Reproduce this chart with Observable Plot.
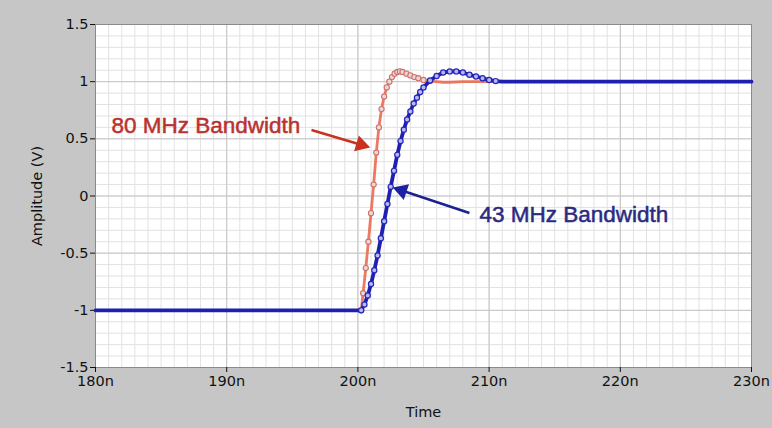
<!DOCTYPE html>
<html><head><meta charset="utf-8">
<script src="https://cdn.jsdelivr.net/npm/d3@7"></script>
<script src="https://cdn.jsdelivr.net/npm/@observablehq/plot@0.6"></script>
<style>body{margin:0;background:#c6c6c6;overflow:hidden}</style>
</head><body><div id="chart"></div>
<script>
const xTicks = [180, 190, 200, 210, 220, 230];
const xTickLabels = ["180n", "190n", "200n", "210n", "220n", "230n"];
const yTicks = [-1.5, -1, -0.5, 0, 0.5, 1, 1.5];
const yTickLabels = ["-1.5", "-1", "-0.5", "0", "0.5", "1", "1.5"];

// 80 MHz bandwidth step response (time in ns, amplitude in V)
const redTime = [180, 190, 200, 200.25, 200.4, 200.6, 200.8, 201.0, 201.2, 201.4, 201.6, 201.8, 202.0, 202.2, 202.4, 202.6, 202.8, 203.0, 203.2, 203.4, 203.7, 204.0, 204.3, 204.6, 205.0, 205.5, 206.0, 206.5, 207.0, 208, 210, 220, 230];
const redAmp  = [-1, -1, -1, -1, -0.85, -0.63, -0.4, -0.15, 0.1, 0.38, 0.6, 0.76, 0.87, 0.95, 1.0, 1.04, 1.07, 1.085, 1.09, 1.085, 1.07, 1.055, 1.04, 1.03, 1.015, 1.005, 1.0, 0.995, 0.995, 1.0, 1.0, 1.0, 1.0];

// 43 MHz bandwidth step response
const blueTime = [180, 190, 200, 200.25, 200.5, 200.75, 201.0, 201.25, 201.5, 201.75, 202.0, 202.25, 202.5, 202.75, 203.0, 203.25, 203.5, 203.75, 204.0, 204.25, 204.5, 204.75, 205.0, 205.5, 206.0, 206.5, 207.0, 207.5, 208.0, 208.5, 209.0, 209.5, 210.0, 210.5, 211.0, 212, 220, 230];
const blueAmp  = [-1, -1, -1, -1, -0.95, -0.87, -0.77, -0.65, -0.52, -0.37, -0.22, -0.07, 0.08, 0.22, 0.36, 0.48, 0.58, 0.67, 0.74, 0.81, 0.86, 0.91, 0.95, 1.01, 1.05, 1.08, 1.09, 1.09, 1.08, 1.06, 1.045, 1.03, 1.015, 1.005, 1.0, 1.0, 1.0, 1.0];

const red = redTime.map((t, i) => ({t, v: redAmp[i]}));
const blue = blueTime.map((t, i) => ({t, v: blueAmp[i]}));
const redRise = red.filter(d => d.t > 200 && d.t < 206);
const blueRise = blue.filter(d => d.t > 200 && d.t < 211);

const font = "'DejaVu Sans', sans-serif";
const annFont = "'Liberation Sans', Arial, sans-serif";

const chart = Plot.plot({
  width: 772, height: 428,
  marginLeft: 95, marginRight: 21, marginTop: 24, marginBottom: 61,
  style: {background: "#c6c6c6", fontFamily: font, fontSize: "14px", color: "#111"},
  x: {domain: [180, 230]},
  y: {domain: [-1.5, 1.5]},
  marks: [
    Plot.frame({fill: "white"}),
    Plot.ruleX(d3.range(180, 230.5, 1), {stroke: "#e2e2e2", strokeWidth: 1}),
    Plot.ruleY(d3.range(-15, 16, 1).map(d => d / 10), {stroke: "#e2e2e2", strokeWidth: 1}),
    Plot.ruleX(xTicks, {stroke: "#c4c4c4", strokeWidth: 1}),
    Plot.ruleY(yTicks, {stroke: "#c4c4c4", strokeWidth: 1}),
    Plot.frame({stroke: "#8a8a8a"}),
    Plot.axisX({ticks: xTicks, tickFormat: d => xTickLabels[xTicks.indexOf(d)], tickSize: 5, tickPadding: 3,
      fontSize: 14.5, label: "Time", labelAnchor: "center", labelArrow: "none", labelOffset: 49}),
    Plot.axisY({ticks: yTicks, tickFormat: d => yTickLabels[yTicks.indexOf(d)], tickSize: 5, tickPadding: 2,
      fontSize: 14.5, label: "Amplitude (V)", labelAnchor: "center", labelArrow: "none", labelOffset: 64}),
    // 80 MHz
    Plot.line(red, {x: "t", y: "v", stroke: "#ea6a50", strokeWidth: 2.8, strokeOpacity: 0.9}),
    Plot.dot(redRise, {x: "t", y: "v", r: 2.6, stroke: "#d0706a", strokeWidth: 1.1, fill: "#e8d8d8"}),
    // 43 MHz
    Plot.line(blue, {x: "t", y: "v", stroke: "#1f1fb0", strokeWidth: 3.8}),
    Plot.dot(blueRise, {x: "t", y: "v", r: 2.6, stroke: "#2525b8", strokeWidth: 1.2, fill: "#b8b8f0"}),
    // annotations
    Plot.link([{x1: 196.46, y1: 0.577, x2: 200.24, y2: 0.448}], {x1: "x1", y1: "y1", x2: "x2", y2: "y2", stroke: "#c8321f", strokeWidth: 2.5}),
    Plot.dot([{x: 200.24, y: 0.448}], {x: "x", y: "y", symbol: "triangle", r: 5.2, fill: "#c8321f", stroke: "#c8321f", rotate: 106.6}),
    Plot.link([{x1: 208.5, y1: -0.149, x2: 203.35, y2: 0.048}], {x1: "x1", y1: "y1", x2: "x2", y2: "y2", stroke: "#1e2290", strokeWidth: 2.5}),
    Plot.dot([{x: 203.35, y: 0.048}], {x: "x", y: "y", symbol: "triangle", r: 5.2, fill: "#1e22a0", stroke: "#1e22a0", rotate: -71.6}),
    Plot.text([{x: 181.22, y: 0.612}], {x: "x", y: "y", text: () => "80 MHz Bandwidth", textAnchor: "start", lineAnchor: "middle",
      fontSize: 22.5, fontFamily: annFont, fill: "#b83230", stroke: "#b83230", strokeWidth: 0.5}),
    Plot.text([{x: 209.27, y: -0.166}], {x: "x", y: "y", text: () => "43 MHz Bandwidth", textAnchor: "start", lineAnchor: "middle",
      fontSize: 22.5, fontFamily: annFont, fill: "#2a2a82", stroke: "#2a2a82", strokeWidth: 0.5})
  ]
});
document.getElementById("chart").appendChild(chart);
</script>
</body></html>
